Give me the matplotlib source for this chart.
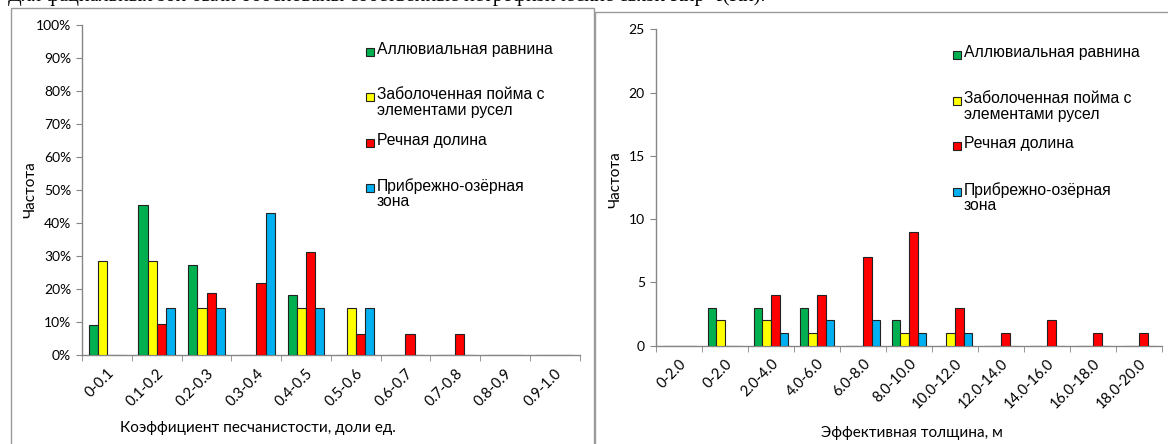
import matplotlib.pyplot as plt
import numpy as np
from matplotlib.patches import Rectangle

# facies series
series = ["Аллювиальная равнина",
          "Заболоченная пойма с\nэлементами русел",
          "Речная долина",
          "Прибрежно-озёрная\nзона"]
colors = ["#00B050", "#FFFF00", "#FF0000", "#00B0F0"]

# left chart: sand coefficient, share of samples (%)
kp_bins = ["0-0.1", "0.1-0.2", "0.2-0.3", "0.3-0.4", "0.4-0.5",
           "0.5-0.6", "0.6-0.7", "0.7-0.8", "0.8-0.9", "0.9-1.0"]
kp_alluvial = [9.1, 45.5, 27.3, 0, 18.2, 0, 0, 0, 0, 0]
kp_swamp = [28.6, 28.6, 14.3, 0, 14.3, 14.3, 0, 0, 0, 0]
kp_river = [0, 9.4, 18.8, 21.9, 31.3, 6.3, 6.3, 6.3, 0, 0]
kp_lake = [0, 14.3, 14.3, 42.9, 14.3, 14.3, 0, 0, 0, 0]

# right chart: effective thickness, counts
h_bins = ["0-2.0", "0-2.0", "2.0-4.0", "4.0-6.0", "6.0-8.0", "8.0-10.0",
          "10.0-12.0", "12.0-14.0", "14.0-16.0", "16.0-18.0", "18.0-20.0"]
h_alluvial = [0, 3, 3, 3, 0, 2, 0, 0, 0, 0, 0]
h_swamp = [0, 2, 2, 1, 0, 1, 1, 0, 0, 0, 0]
h_river = [0, 0, 4, 4, 7, 9, 3, 1, 2, 1, 1]
h_lake = [0, 0, 1, 2, 2, 1, 1, 0, 0, 0, 0]

TICK_FONT = ["Lato", "DejaVu Sans"]
LEG_FONT = ["Liberation Sans", "DejaVu Sans"]
AXC = "#868686"
W, H = 1168, 444

fig = plt.figure(figsize=(W / 100, H / 100), dpi=100)


def fx(px):
    return px / W


def fy(py):
    return 1 - py / H


# chart frames (excel chart areas)
fig.patches.append(Rectangle((fx(11), -0.1), fx(594 - 11), 1.1 - 8 / H,
                             transform=fig.transFigure, fill=False,
                             edgecolor="#9a9a9a", lw=1.0))
fig.patches.append(Rectangle((fx(595), -0.1), 0.6, 1.1 - 12 / H,
                             transform=fig.transFigure, fill=False,
                             edgecolor="#9a9a9a", lw=1.0))

# clipped line of document text above the charts
fig.text(fx(8), fy(1.5),
         "Для фациальных зон были обоснованы собственные петрофизические связи Кпр=f(Кп).",
         family=["Liberation Serif", "DejaVu Serif"], fontsize=14.5, va="baseline")


def draw(ax, bins, data, ymax, ystep, pct):
    x = np.arange(len(bins))
    w = 0.185
    for i, (vals, c, lab) in enumerate(zip(data, colors, series)):
        ax.bar(x + (i - 1.5) * w, vals, w, color=c, edgecolor="#222222",
               linewidth=0.8, label=lab, zorder=3)
    ax.set_xlim(-0.5, len(bins) - 0.5)
    ax.set_ylim(0, ymax)
    yt = np.arange(0, ymax + ystep / 2, ystep)
    ax.set_yticks(yt)
    if pct:
        ax.set_yticklabels([f"{int(v)}%" for v in yt])
    else:
        ax.set_yticklabels([f"{int(v)}" for v in yt])
    ax.set_xticks(x)
    ax.set_xticklabels(bins, rotation=45, ha="right", rotation_mode="anchor",
                       family=TICK_FONT, fontsize=10.5)
    ax.set_xticks(np.arange(-0.5, len(bins)), minor=True)
    ax.tick_params(axis="x", which="major", length=0, pad=8)
    ax.tick_params(axis="x", which="minor", length=4, color=AXC, direction="out")
    ax.tick_params(axis="y", length=4, color=AXC, pad=4)
    for lb in ax.get_yticklabels():
        lb.set_family(TICK_FONT)
        lb.set_fontsize(10)
    for s in ["top", "right"]:
        ax.spines[s].set_visible(False)
    for s in ["left", "bottom"]:
        ax.spines[s].set_color(AXC)
        ax.spines[s].set_linewidth(1.0)
    ax.patch.set_alpha(0)


ax1 = fig.add_axes([fx(82.3), fy(355), fx(579.5 - 82.3), 330 / H])
draw(ax1, kp_bins, [kp_alluvial, kp_swamp, kp_river, kp_lake], 100, 10, True)

ax2 = fig.add_axes([fx(656), fy(345.7), fx(1162 - 656), (345.7 - 29.5) / H])
draw(ax2, h_bins, [h_alluvial, h_swamp, h_river, h_lake], 25, 5, False)

# legends, laid out like the excel ones (uneven entry spacing)
legends = [(366, [52, 97, 143, 188]), (953, [55, 101, 146, 192])]
for lx, rows in legends:
    for lab, c, ry in zip(series, colors, rows):
        fig.patches.append(Rectangle((fx(lx), fy(ry + 4)), fx(8), 8 / H,
                                     transform=fig.transFigure, facecolor=c,
                                     edgecolor="#222222", lw=0.8))
        fig.text(fx(lx + 11), fy(ry - 10), lab, family=LEG_FONT, fontsize=11.3,
                 va="top", ha="left", linespacing=1.05)

# axis titles
fig.text(fx(30), fy(190), "Частота", rotation=90, ha="center", va="center",
         family=TICK_FONT, fontsize=11)
fig.text(fx(615), fy(180), "Частота", rotation=90, ha="center", va="center",
         family=TICK_FONT, fontsize=11)
fig.text(fx(258), fy(428), "Коэффициент песчанистости, доли ед.",
         ha="center", va="center", family=TICK_FONT, fontsize=11)
fig.text(fx(912), fy(433), "Эффективная толщина, м",
         ha="center", va="center", family=TICK_FONT, fontsize=11)

fig.savefig("out.png", dpi=100)
